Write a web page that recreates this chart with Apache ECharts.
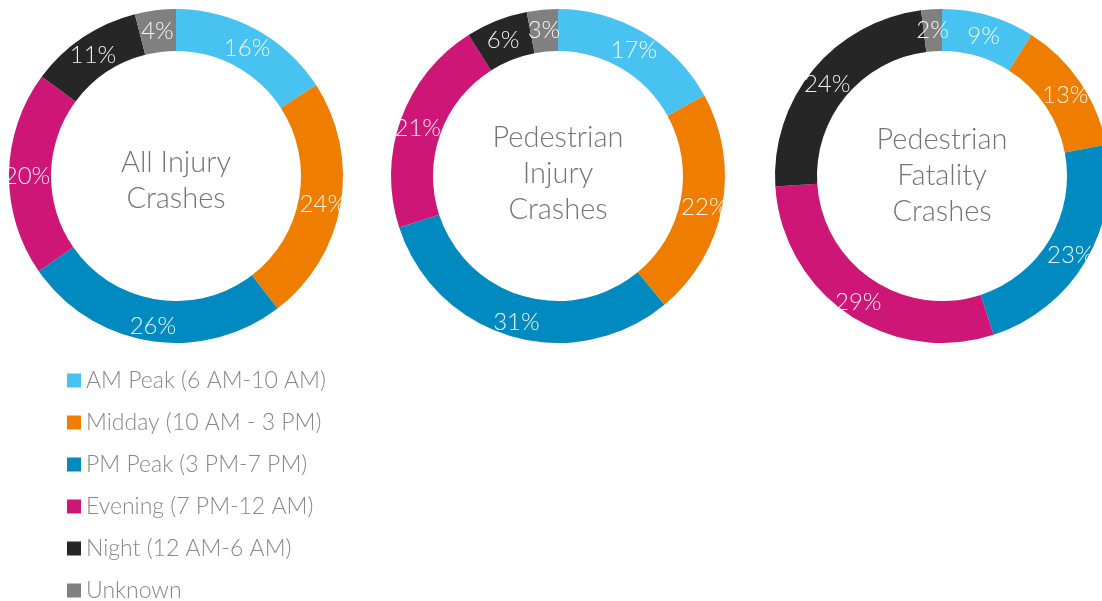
<!DOCTYPE html>
<html>
<head>
<meta charset="utf-8">
<script src="https://cdn.jsdelivr.net/npm/echarts@6/dist/echarts.min.js"></script>
<style>
  html, body { margin: 0; padding: 0; background: #fff; }
  #chart { width: 1102px; height: 601px; }
</style>
</head>
<body>
<div id="chart"></div>
<script>
// Time-of-day periods (legend order)
const periods = [
  'AM Peak (6 AM-10 AM)',
  'Midday (10 AM - 3 PM)',
  'PM Peak (3 PM-7 PM)',
  'Evening (7 PM-12 AM)',
  'Night (12 AM-6 AM)',
  'Unknown'
];
const periodColors = ['#48c3f1', '#ee7d00', '#008abf', '#cd1675', '#262626', '#808080'];

// Share of crashes by period, percent
const allInjury = [16, 24, 26, 20, 11, 4];
const pedInjury = [17, 22, 31, 21, 6, 3];
const pedFatality = [9, 13, 23, 29, 24, 2];

const chartTitles = ['All Injury\nCrashes', 'Pedestrian\nInjury\nCrashes', 'Pedestrian\nFatality\nCrashes'];
const chartData = [allInjury, pedInjury, pedFatality];
const centersX = [176, 558, 942];
const centerY = 176;
const titleShiftY = [5, -2, 0];

const FONT = 'Lato, "Open Sans", sans-serif';

const series = chartData.map((vals, i) => ({
  type: 'pie',
  center: [centersX[i], centerY],
  radius: [125, 167],
  startAngle: 90,
  clockwise: true,
  avoidLabelOverlap: false,
  silent: true,
  animation: false,
  label: {
    show: true,
    position: 'inside',
    formatter: '{c}%',
    color: 'rgba(255,255,255,0.92)',
    fontFamily: FONT,
    fontWeight: 300,
    fontSize: 24,
    offset: [0, 3]
  },
  labelLine: { show: false },
  itemStyle: { borderWidth: 0 },
  data: vals.map((v, k) => ({
    name: periods[k],
    value: v,
    itemStyle: { color: periodColors[k] }
  }))
}));

const graphics = chartTitles.map((t, i) => ({
  type: 'text',
  x: centersX[i],
  y: centerY + titleShiftY[i],
  silent: true,
  style: {
    text: t,
    align: 'center',
    verticalAlign: 'middle',
    fill: '#747474',
    font: '300 29px ' + FONT,
    lineHeight: 36
  }
}));

const chart = echarts.init(document.getElementById('chart'), null, { renderer: 'canvas' });
chart.setOption({
  backgroundColor: '#fff',
  animation: false,
  legend: {
    orient: 'vertical',
    left: 67,
    top: 369,
    height: 320,
    padding: 0,
    itemWidth: 14,
    itemHeight: 14,
    itemGap: 19,
    icon: 'rect',
    selectedMode: false,
    data: periods,
    textStyle: {
      color: '#888',
      fontFamily: FONT,
      fontWeight: 300,
      fontSize: 23
    }
  },
  graphic: graphics,
  series: series
});
</script>
</body>
</html>
